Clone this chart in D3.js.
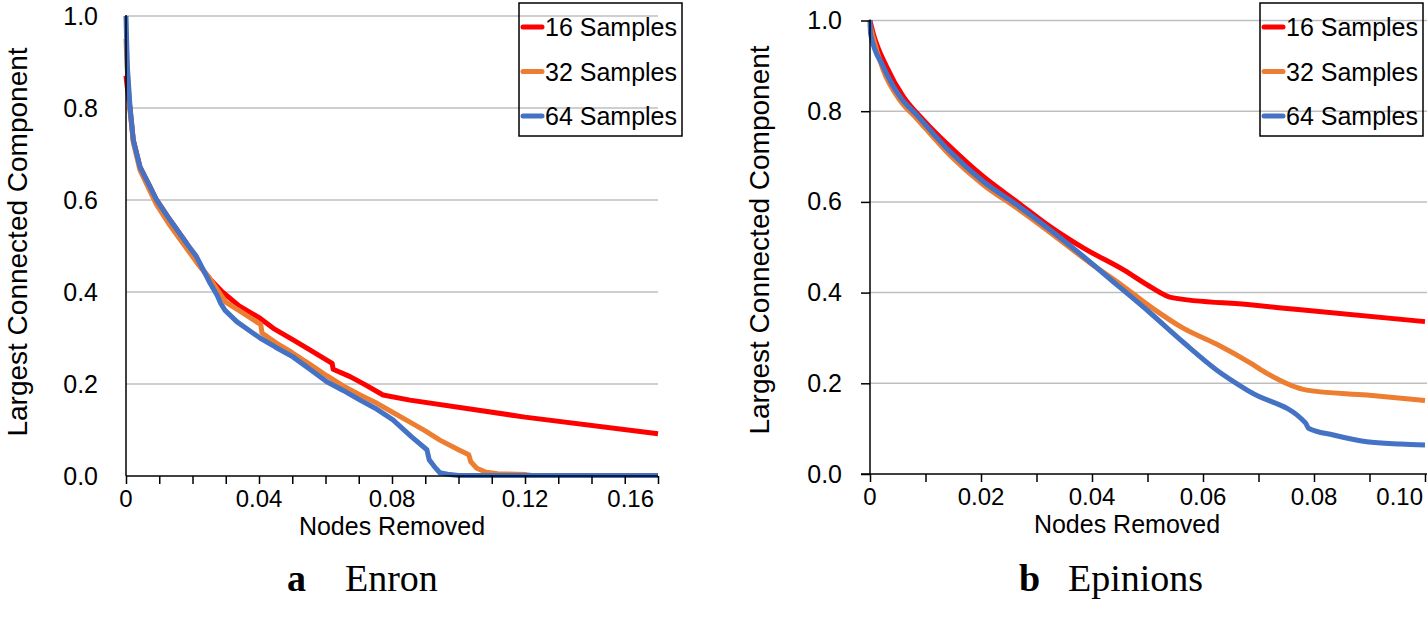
<!DOCTYPE html>
<html><head><meta charset="utf-8">
<script src="https://cdn.jsdelivr.net/npm/d3@7"></script>
<style>body{margin:0;background:#fff}svg{display:block}</style>
</head><body>
<svg id="c" width="1427" height="624"></svg>
<script>
// ---- data ----
const seriesNames = ["16 Samples", "32 Samples", "64 Samples"];
const seriesColors = ["#FF0000", "#ED7D31", "#4472C4"];
const yTickValues = [0, 0.2, 0.4, 0.6, 0.8, 1.0];
const enronXTickLabels = [0, 0.04, 0.08, 0.12, 0.16];
const epinionsXTickLabels = [0, 0.02, 0.04, 0.06, 0.08, 0.10];

// Enron: [nodes removed, largest connected component]
const enron16 = [[0,0.87],[0.0003,0.85],[0.0012,0.80],[0.0022,0.73],[0.0042,0.672],[0.0072,0.629],[0.0092,0.60],[0.0132,0.557],[0.0182,0.506],[0.0217,0.462],[0.025,0.43],[0.029,0.40],[0.034,0.37],[0.0403,0.343],[0.0443,0.321],[0.05,0.297],[0.0553,0.274],[0.062,0.245],[0.0623,0.232],[0.0674,0.216],[0.072,0.198],[0.0773,0.176],[0.0854,0.165],[0.12,0.128],[0.16,0.092]];
const enron32 = [[0,0.95],[0.0004,0.88],[0.0012,0.795],[0.0022,0.725],[0.0042,0.665],[0.0072,0.62],[0.0092,0.59],[0.0132,0.545],[0.0182,0.495],[0.0217,0.46],[0.025,0.432],[0.027,0.41],[0.030,0.378],[0.035,0.355],[0.0397,0.333],[0.0405,0.33],[0.0409,0.311],[0.045,0.29],[0.05,0.268],[0.0553,0.243],[0.0604,0.218],[0.0653,0.196],[0.0704,0.176],[0.0755,0.158],[0.0803,0.138],[0.0854,0.117],[0.09,0.098],[0.0944,0.078],[0.100,0.057],[0.1031,0.046],[0.1037,0.031],[0.1055,0.017],[0.1083,0.008],[0.1118,0.005],[0.1203,0.003],[0.122,0.001],[0.16,0.001]];
const enron64 = [[0,1.0],[0.0004,0.89],[0.0012,0.803],[0.0022,0.73],[0.0042,0.672],[0.0072,0.629],[0.0092,0.60],[0.0132,0.557],[0.0182,0.506],[0.0212,0.477],[0.0253,0.419],[0.0274,0.393],[0.0285,0.375],[0.0298,0.36],[0.0334,0.335],[0.0403,0.30],[0.045,0.28],[0.0502,0.259],[0.0553,0.232],[0.0604,0.205],[0.0653,0.186],[0.0704,0.165],[0.0755,0.145],[0.0803,0.122],[0.0859,0.085],[0.0905,0.057],[0.0912,0.035],[0.0928,0.020],[0.0944,0.007],[0.0967,0.004],[0.100,0.001],[0.16,0.001]];

// Epinions
const epinions16 = [[0,1.0],[0.0005,0.975],[0.003,0.898],[0.006,0.832],[0.0096,0.781],[0.0144,0.722],[0.0204,0.656],[0.0265,0.600],[0.0325,0.545],[0.0385,0.498],[0.0457,0.450],[0.0505,0.413],[0.0544,0.389],[0.0685,0.373],[0.0776,0.362],[0.10,0.336]];
const epinions32 = [[0,0.99],[0.0005,0.965],[0.0024,0.89],[0.0054,0.824],[0.0084,0.784],[0.0144,0.703],[0.0204,0.638],[0.0265,0.586],[0.0325,0.532],[0.0397,0.465],[0.0455,0.415],[0.0505,0.369],[0.0565,0.321],[0.0625,0.286],[0.0685,0.245],[0.0715,0.222],[0.0787,0.185],[0.0895,0.174],[0.10,0.162]];
const epinions64 = [[0,1.0],[0.0001,0.971],[0.0024,0.898],[0.0054,0.832],[0.0084,0.792],[0.0144,0.711],[0.0204,0.645],[0.0265,0.593],[0.0325,0.538],[0.0385,0.479],[0.0445,0.417],[0.0505,0.355],[0.0565,0.29],[0.0625,0.229],[0.0685,0.181],[0.0785,0.112],[0.079,0.101],[0.0835,0.086],[0.0895,0.071],[0.0956,0.066],[0.10,0.064]];

// ---- drawing ----
const svg = d3.select("#c");
const SANS = "'Liberation Sans', Arial, sans-serif";
const SERIF = "'Liberation Serif', 'Times New Roman', serif";

function panel(cfg) {
  const x = d3.scaleLinear().domain([0, cfg.xMax]).range([cfg.left, cfg.right]);
  const y = d3.scaleLinear().domain([0, 1]).range([cfg.bottom, cfg.top]);
  const g = svg.append("g");

  // gridlines
  g.append("g").selectAll("line").data(yTickValues.filter(v => v > 0)).join("line")
    .attr("x1", cfg.left).attr("x2", cfg.gridRight)
    .attr("y1", d => y(d)).attr("y2", d => y(d))
    .attr("stroke", "#BFBFBF").attr("stroke-width", 1.5);

  // series
  const line = d3.line().x(d => x(d[0])).y(d => y(d[1])).curve(cfg.curve);
  cfg.series.forEach((s, i) => {
    g.append("path").datum(s).attr("d", line)
      .attr("fill", "none").attr("stroke", seriesColors[i])
      .attr("stroke-width", 5).attr("stroke-linejoin", "round");
  });

  // y axis
  const yAxis = d3.axisLeft(y).tickValues(yTickValues).tickFormat(d3.format(".1f"))
    .tickSize(cfg.yTickSize).tickPadding(cfg.yPad);
  const ya = g.append("g").attr("transform", `translate(${cfg.left},0)`).call(yAxis);
  ya.select(".domain").remove();
  ya.append("line").attr("x1", 0).attr("x2", 0).attr("y1", cfg.bottom).attr("y2", cfg.top - 1)
    .attr("stroke", "#000").attr("stroke-width", 1.5);
  ya.selectAll(".tick line").attr("stroke", "#000").attr("stroke-width", 1.5);
  ya.selectAll("text").attr("font-family", SANS).attr("font-size", 25).attr("fill", "#000");

  // x axis minor ticks
  const minor = d3.range(0, Math.round(cfg.xMax / 0.01) + 1).map(k => k * 0.01);
  const xAxis = d3.axisBottom(x).tickValues(minor).tickFormat("").tickSize(8);
  const xa = g.append("g").attr("transform", `translate(0,${cfg.bottom})`).call(xAxis);
  xa.select(".domain").remove();
  xa.append("line").attr("x1", cfg.xAxisStart).attr("x2", cfg.gridRight).attr("y1", 0).attr("y2", 0)
    .attr("stroke", "#000").attr("stroke-width", 1.5);
  xa.selectAll(".tick line").attr("stroke", "#000").attr("stroke-width", 1.5);

  // x tick labels
  const fmt = v => v === 0 ? "0" : d3.format(".2f")(v);
  const last = cfg.xLabels[cfg.xLabels.length - 1];
  g.append("g").selectAll("text").data(cfg.xLabels).join("text")
    .attr("x", d => d === last ? cfg.lastLabelRight : x(d))
    .attr("y", cfg.bottom + 31)
    .attr("text-anchor", d => d === last ? "end" : "middle")
    .attr("font-family", SANS).attr("font-size", 24).attr("fill", "#000")
    .text(fmt);

  // axis titles
  g.append("text").attr("x", cfg.xTitleX).attr("y", cfg.bottom + 59)
    .attr("text-anchor", "middle").attr("font-family", SANS).attr("font-size", 25)
    .text("Nodes Removed");
  g.append("text").attr("transform", `translate(${cfg.yTitleX},${cfg.yTitleY}) rotate(-90)`)
    .attr("text-anchor", "middle").attr("font-family", SANS).attr("font-size", 28)
    .text("Largest Connected Component");

  // legend (transparent box, gridlines show through)
  const lg = g.append("g").attr("transform", `translate(${cfg.legendX},3)`);
  lg.append("rect").attr("width", 163).attr("height", 133)
    .attr("fill", "none").attr("stroke", "#000").attr("stroke-width", 1.5);
  seriesNames.forEach((n, i) => {
    const cy = 24 + i * 44.5;
    lg.append("line").attr("x1", 4).attr("x2", 23).attr("y1", cy).attr("y2", cy)
      .attr("stroke", seriesColors[i]).attr("stroke-width", 5).attr("stroke-linecap", "round");
    lg.append("text").attr("x", 26).attr("y", cy + 9)
      .attr("font-family", SANS).attr("font-size", 25).text(n);
  });

  // caption
  const cap = g.append("text").attr("y", 591)
    .attr("font-family", SERIF).attr("font-size", 38);
  cap.append("tspan").attr("x", cfg.capLetterX).attr("font-weight", "bold").text(cfg.capLetter);
  cap.append("tspan").attr("x", cfg.capNameX).text(cfg.capName);
}

panel({
  left: 126, right: 658, gridRight: 658, top: 16, bottom: 476, xMax: 0.16, curve: d3.curveLinear,
  xAxisStart: 126, yTickSize: 0, yPad: 28, xLabels: enronXTickLabels, lastLabelRight: 654,
  series: [enron16, enron32, enron64], xTitleX: 392, yTitleX: 26.5, yTitleY: 242, legendX: 519,
  capLetter: "a", capName: "Enron", capLetterX: 287, capNameX: 345
});
panel({
  left: 870, right: 1425, gridRight: 1427, top: 20.5, bottom: 474, xMax: 0.10, curve: d3.curveMonotoneX,
  xAxisStart: 861, yTickSize: 9, yPad: 19, xLabels: epinionsXTickLabels, lastLabelRight: 1423,
  series: [epinions16, epinions32, epinions64], xTitleX: 1127, yTitleX: 769, yTitleY: 240, legendX: 1260,
  capLetter: "b", capName: "Epinions", capLetterX: 1019, capNameX: 1068
});
</script>
</body></html>
